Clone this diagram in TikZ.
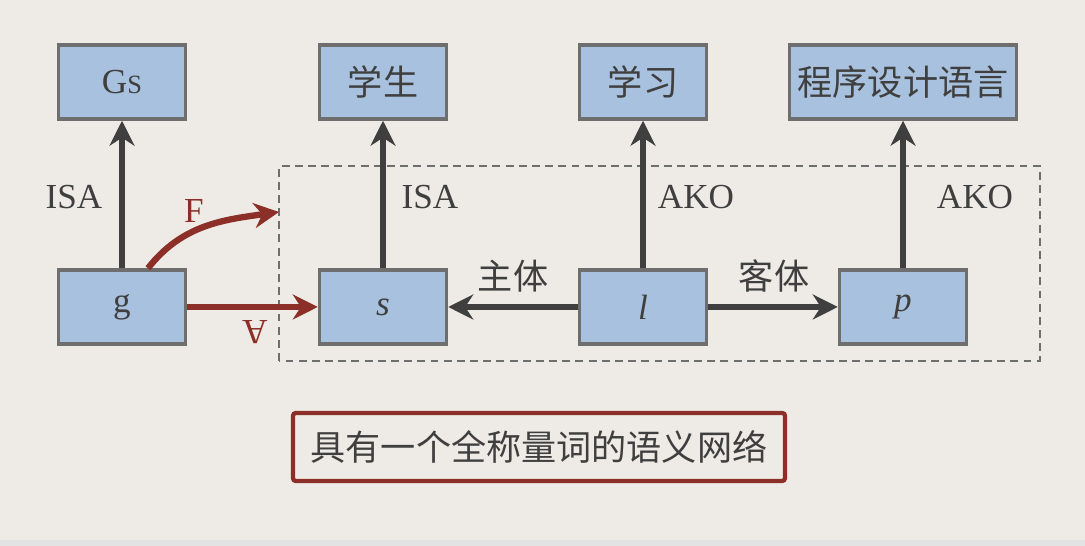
\documentclass[tikz,border=0pt]{standalone}
\usepackage{fontspec}
\setmainfont{Liberation Serif}
\newfontfamily\cjk{Noto Sans CJK SC}
\usetikzlibrary{arrows.meta}
\definecolor{paper}{HTML}{EEEBE6}
\definecolor{boxblue}{HTML}{A7C1DE}
\definecolor{boxline}{HTML}{6E6E6E}
\definecolor{ink}{HTML}{3F3F3F}
\definecolor{rust}{HTML}{8C2F28}
\begin{document}
\begin{tikzpicture}[x=0.02cm,y=0.02cm,
	box/.style={draw=boxline,fill=boxblue,line width=2pt,minimum width=2.54cm,minimum height=1.48cm,inner sep=0pt,text=ink,font=\fontsize{20}{24}\selectfont},
	link/.style={draw=ink,line width=3.6pt,-{Stealth[length=0.5cm,width=0.5cm]}},
	quant/.style={draw=rust,line width=3.6pt,-{Stealth[length=0.5cm,width=0.5cm]}},
	lbl/.style={text=ink,font=\fontsize{20}{24}\selectfont}]
\useasboundingbox (0,0) rectangle (1085,546);
\fill[paper] (0,0) rectangle (1085,546);
\fill[black!11] (0,0) rectangle (1085,6);

% upper row
\node[box] (Gs) at (122,464) {G{\fontsize{15}{15}\selectfont S}};
\node[box] (stu) at (383,464) {\cjk 学生};
\node[box] (learn) at (643,464) {\cjk 学习};
\node[box,minimum width=4.54cm] (lang) at (903,464) {\cjk 程序设计语言};

% lower row
\node[box] (g) at (122,239) {g};
\node[box] (s) at (383,239) {\textit{s}};
\node[box] (l) at (643,239) {\textit{l}};
\node[box] (p) at (903,239) {\textit{p}};

% frame round the subnet
\coordinate (frSW) at (279,185);
\coordinate (frNE) at (1040,380);
\coordinate (frIn) at (279,334);
\draw[boxline,line width=1.3pt,dash pattern=on 4.5pt off 3pt] (frSW) rectangle (frNE);

\foreach \a/\b in {g/Gs,s/stu,l/learn,p/lang}
{
	\draw[link] (\a) -- (\b);
}
\draw[link] (l) -- (s);
\draw[link] (l) -- (p);

\node[lbl] (isa1) at (74,349) {ISA};
\node[lbl] (isa2) at (430,349) {ISA};
\node[lbl] (ako1) at (696,349) {AKO};
\node[lbl] (ako2) at (975,349) {AKO};
\node[lbl,font=\cjk\fontsize{20}{24}\selectfont] (subj) at (513,270) {主体};
\node[lbl,font=\cjk\fontsize{20}{24}\selectfont] (obj) at (774,270) {客体};

% quantifier links
\draw[quant] (g) -- (s);
\draw[quant] ([xshift=0.52cm]g.north) to[out=52,in=188] (frIn);
\node[lbl,text=rust] (fa) at (255,214) {\rotatebox{180}{A}};
\node[lbl,text=rust] (F) at (194,335) {F};

\node[draw=rust,line width=2.4pt,rounded corners=1.5pt,minimum width=9.84cm,minimum height=1.36cm,text=ink,font=\cjk\fontsize{20}{24}\selectfont] (cap) at (539,99) {具有一个全称量词的语义网络};
\end{tikzpicture}
\end{document}
